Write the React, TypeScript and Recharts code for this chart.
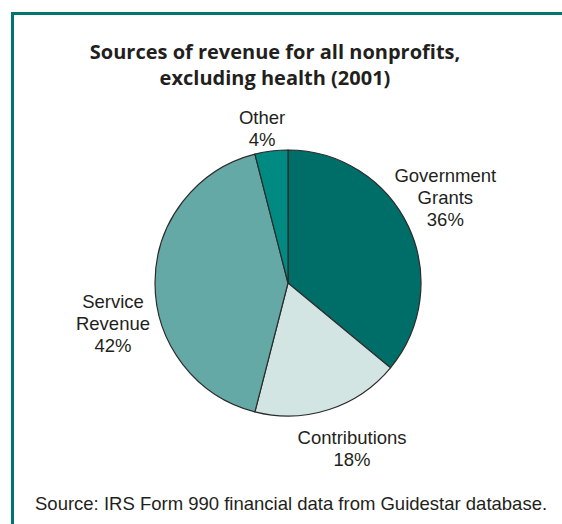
import React from "react"
import { PieChart, Pie, Cell } from "recharts"

const categories = ["Government Grants", "Contributions", "Service Revenue", "Other"]
const shares = [36, 18, 42, 4]
const sliceColors = ["#006e68", "#d3e5e3", "#64a9a6", "#008a82"]

const data = categories.map((name, i) => ({ name, value: shares[i] }))

// small nudges so the labels sit where the original put them
const nudge: Record<string, [number, number]> = {
  "Government Grants": [-1, -11],
  "Contributions": [10, -1],
  "Service Revenue": [0, 40],
  "Other": [-4, 19],
}

const RAD = Math.PI / 180

function SliceLabel(props: any) {
  const { cx, cy, midAngle, outerRadius, name, value } = props
  const r = outerRadius + 42
  const [nx, ny] = nudge[name] || [0, 0]
  const x = cx + r * Math.cos(-midAngle * RAD) + nx
  const y = cy + r * Math.sin(-midAngle * RAD) + ny
  const lines = [...String(name).split(" "), value + "%"]
  const lh = 22
  const first = y - ((lines.length - 1) * lh) / 2 + 6.5
  return (
    <text x={x} y={first} textAnchor="middle" fill="#231f20" fontSize={18.5} fontFamily="'Liberation Sans', Arial, sans-serif">
      {lines.map((l, i) => (
        <tspan key={i} x={x} y={first + i * lh}>{l}</tspan>
      ))}
    </text>
  )
}

export default function App() {
  return (
    <div style={{ position: "absolute", left: 0, top: 0, width: 562, height: 524, background: "#fff", overflow: "hidden" }}>
      <div style={{ position: "absolute", left: 11, top: 12, width: 560, height: 520, borderTop: "3px solid #00766e", borderLeft: "3px solid #00766e" }} />
      <div style={{ position: "absolute", left: 0, top: 39, width: 550, textAlign: "center", fontFamily: "'Open Sans', sans-serif", fontWeight: 700, fontSize: 20, lineHeight: "26px", color: "#231f20" }}>
        Sources of revenue for all nonprofits,<br />excluding health (2001)
      </div>
      <div style={{ position: "absolute", left: 0, top: 0 }}>
        <PieChart width={562} height={524} margin={{ top: 0, right: 0, bottom: 0, left: 0 }}>
          <Pie
            data={data}
            dataKey="value"
            nameKey="name"
            cx={288}
            cy={283}
            outerRadius={133}
            startAngle={90}
            endAngle={-270}
            stroke="#2b2b2b"
            strokeWidth={1.2}
            label={SliceLabel}
            labelLine={false}
            isAnimationActive={false}
          >
            {data.map((d, i) => <Cell key={d.name} fill={sliceColors[i]} />)}
          </Pie>
        </PieChart>
      </div>
      <div style={{ position: "absolute", left: 35, top: 493, fontFamily: "'Liberation Sans', Arial, sans-serif", fontSize: 18.5, lineHeight: "22px", color: "#231f20", whiteSpace: "nowrap" }}>
        Source: IRS Form 990 financial data from Guidestar database.
      </div>
    </div>
  )
}
